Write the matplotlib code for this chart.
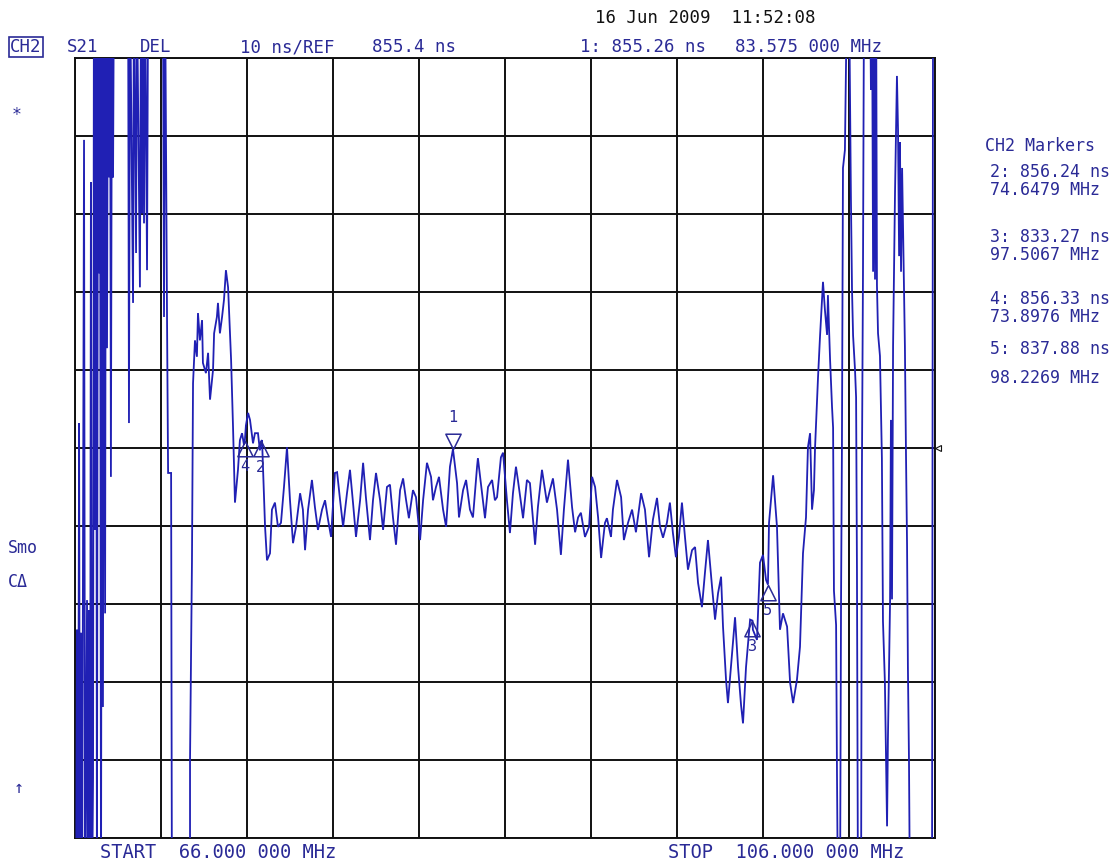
import matplotlib.pyplot as plt
import numpy as np
from matplotlib.path import Path

# ── sweep setup ───────────────────────────────────────────
START_MHZ = 66.0
STOP_MHZ = 106.0
REF_NS = 855.4
NS_PER_DIV = 10.0

TRACE_BLUE = "#2020b4"
TEXT_BLUE = "#2a2a96"

# S21 group delay trace (MHz, ns); values off-screen are parked past the limits
freq_mhz = [
    66.00, 66.05, 66.09, 66.14, 66.19, 66.23, 66.28, 66.33, 66.42, 66.47,
    66.56, 66.60, 66.65, 66.70, 66.74, 66.79, 66.84, 66.88, 66.93, 66.98,
    67.02, 67.07, 67.12, 67.16, 67.21, 67.26, 67.30, 67.35, 67.40, 67.44,
    67.49, 67.53, 67.58, 67.63, 67.67, 67.72, 67.77, 67.81, 68.47, 68.51,
    68.56, 68.70, 68.74, 68.84, 68.88, 69.02, 69.07, 69.12, 69.16, 69.21,
    69.26, 69.35, 69.40, 70.09, 70.14, 70.19, 70.28, 70.33, 70.47, 70.51,
    71.35, 71.35, 71.44, 71.49, 71.58, 71.67, 71.72, 71.81, 71.91, 71.95,
    72.09, 72.19, 72.28, 72.42, 72.47, 72.60, 72.65, 72.74, 72.84, 72.93,
    73.02, 73.12, 73.26, 73.35, 73.44, 73.58, 73.67, 73.77, 73.86, 73.90,
    73.95, 74.05, 74.14, 74.28, 74.37, 74.51, 74.60, 74.65, 74.70, 74.79,
    74.84, 74.93, 75.07, 75.16, 75.30, 75.44, 75.58, 75.72, 75.86, 76.00,
    76.14, 76.28, 76.47, 76.60, 76.70, 76.84, 77.02, 77.16, 77.30, 77.49,
    77.63, 77.77, 77.91, 78.09, 78.19, 78.33, 78.47, 78.65, 78.79, 78.93,
    79.07, 79.26, 79.40, 79.53, 79.72, 79.86, 80.00, 80.19, 80.33, 80.51,
    80.65, 80.79, 80.93, 81.12, 81.26, 81.40, 81.53, 81.72, 81.86, 82.05,
    82.19, 82.37, 82.56, 82.65, 82.79, 82.93, 83.12, 83.26, 83.44, 83.58,
    83.77, 83.86, 84.05, 84.19, 84.37, 84.51, 84.70, 84.74, 84.93, 85.07,
    85.21, 85.40, 85.53, 85.63, 85.81, 85.91, 86.09, 86.23, 86.37, 86.51,
    86.60, 86.84, 87.02, 87.16, 87.40, 87.53, 87.72, 87.95, 88.09, 88.23,
    88.42, 88.60, 88.74, 88.93, 89.12, 89.26, 89.40, 89.53, 89.72, 89.91,
    90.05, 90.19, 90.33, 90.47, 90.65, 90.74, 90.93, 91.02, 91.21, 91.40,
    91.53, 91.72, 91.91, 92.09, 92.33, 92.51, 92.70, 92.88, 93.07, 93.21,
    93.35, 93.53, 93.67, 93.81, 93.95, 94.09, 94.23, 94.37, 94.51, 94.70,
    94.84, 94.98, 95.16, 95.30, 95.44, 95.63, 95.77, 95.91, 96.05, 96.14,
    96.28, 96.37, 96.51, 96.70, 96.84, 96.98, 97.07, 97.21, 97.40, 97.51,
    97.53, 97.72, 97.86, 98.00, 98.14, 98.23, 98.28, 98.47, 98.65, 98.79,
    98.93, 99.12, 99.26, 99.40, 99.58, 99.72, 99.86, 100.00, 100.09, 100.19,
    100.28, 100.37, 100.42, 100.56, 100.65, 100.79, 100.88, 100.98, 101.02, 101.12,
    101.21, 101.26, 101.30, 101.40, 101.44, 101.49, 101.58, 101.63, 101.67, 101.72,
    101.81, 101.91, 102.00, 102.09, 102.14, 102.19, 102.28, 102.33, 102.37, 102.42,
    102.56, 102.60, 102.65, 102.70, 102.98, 103.02, 103.07, 103.12, 103.16, 103.21,
    103.26, 103.30, 103.35, 103.44, 103.53, 103.58, 103.67, 103.77, 103.81, 103.91,
    103.95, 104.00, 104.05, 104.14, 104.23, 104.28, 104.33, 104.37, 104.42, 104.47,
    104.56, 104.60, 104.65, 104.70, 104.74, 104.79, 104.84, 105.86, 105.91, 106.00,
]
delay_ns = [
    795.0, 795.0, 832.1, 795.0, 858.6, 795.0, 831.7, 795.0, 894.9, 795.0,
    835.9, 795.0, 834.6, 795.0, 889.5, 795.0, 813.1, 915.0, 844.9, 915.0,
    795.0, 915.0, 877.8, 915.0, 795.0, 915.0, 822.2, 915.0, 834.2, 915.0,
    868.2, 915.0, 890.1, 915.0, 851.7, 915.0, 890.1, 915.0, 915.0, 858.6,
    915.0, 874.0, 915.0, 880.4, 915.0, 876.0, 915.0, 885.5, 915.0, 884.2,
    915.0, 878.2, 915.0, 915.0, 872.2, 915.0, 872.2, 852.2, 852.2, 795.0,
    795.0, 815.4, 840.8, 863.7, 869.2, 867.1, 872.7, 869.2, 871.8, 866.3,
    865.0, 867.6, 861.6, 865.4, 870.1, 872.2, 874.0, 870.1, 872.2, 874.4,
    878.2, 876.0, 866.7, 858.1, 848.4, 852.6, 856.4, 857.3, 855.8, 856.33,
    858.3, 859.9, 859.0, 856.0, 857.3, 857.3, 855.1, 856.24, 856.4, 849.4,
    845.3, 841.0, 841.9, 847.5, 848.4, 845.3, 845.8, 850.4, 855.5, 848.7,
    843.2, 845.3, 849.6, 847.5, 842.3, 847.5, 851.3, 847.8, 844.9, 847.5,
    848.7, 846.2, 844.0, 852.2, 852.3, 848.7, 845.3, 849.6, 852.6, 848.4,
    844.0, 848.7, 853.5, 849.1, 843.6, 848.7, 852.2, 848.7, 844.9, 850.4,
    850.7, 846.5, 843.0, 850.0, 851.5, 848.7, 846.4, 850.0, 849.1, 843.6,
    848.7, 853.5, 851.7, 848.7, 850.4, 851.7, 847.5, 845.3, 853.0, 855.26,
    850.9, 846.5, 850.0, 851.3, 847.5, 846.5, 853.0, 854.1, 849.6, 846.4,
    850.4, 851.3, 848.7, 849.1, 854.2, 854.8, 848.7, 844.5, 849.6, 853.0,
    851.3, 846.4, 851.3, 850.9, 843.0, 847.8, 852.6, 848.4, 850.0, 851.5,
    847.5, 841.7, 847.5, 853.9, 847.8, 844.6, 846.5, 847.1, 844.0, 845.3,
    851.7, 850.4, 846.5, 841.3, 845.8, 846.4, 844.0, 847.5, 851.3, 849.1,
    843.6, 845.8, 847.5, 844.6, 849.6, 847.5, 841.4, 846.2, 849.0, 845.3,
    843.9, 845.8, 848.4, 844.5, 841.4, 844.0, 848.4, 844.0, 839.8, 842.3,
    842.7, 838.1, 835.0, 839.4, 843.6, 837.6, 833.4, 836.8, 838.9, 832.5,
    825.7, 822.7, 827.3, 833.7, 827.3, 822.4, 820.1, 827.3, 833.4, 833.27,
    832.1, 830.8, 840.7, 841.7, 838.5, 837.88, 845.8, 851.9, 845.3, 832.1,
    834.2, 832.5, 825.3, 822.7, 825.7, 829.9, 841.9, 846.5, 855.5, 857.3,
    847.5, 850.0, 855.4, 864.5, 869.6, 876.7, 873.1, 869.9, 875.0, 866.7,
    860.7, 858.0, 837.1, 832.7, 814.1, 795.0, 795.0, 835.9, 854.8, 891.3,
    893.6, 915.0, 915.0, 887.2, 875.7, 869.8, 865.4, 861.9, 839.8, 795.0,
    795.0, 852.1, 877.6, 915.0, 915.0, 901.3, 915.0, 878.0, 915.0, 877.0,
    915.0, 876.3, 870.1, 867.2, 854.1, 833.2, 825.3, 806.9, 818.0, 835.8,
    859.0, 836.0, 868.5, 888.1, 903.1, 896.2, 880.0, 894.6, 878.0, 891.3,
    875.0, 868.5, 854.8, 843.0, 827.2, 815.4, 795.0, 795.0, 915.0, 915.0,
]

# marker table: id, stimulus (MHz), delay (ns)
marker_ids = [1, 2, 3, 4, 5]
marker_mhz = [83.575, 74.6479, 97.5067, 73.8976, 98.2269]
marker_ns = [855.26, 856.24, 833.27, 856.33, 837.88]
# ──────────────────────────────────────────────────────────


W, H = 1117, 861
fig = plt.figure(figsize=(W / 100, H / 100), dpi=100)
fig.patch.set_facecolor("white")


def px(x, y):
    """screen pixel -> figure fraction"""
    return x / W, 1 - y / H


ax = fig.add_axes([75 / W, 1 - 838 / H, 860 / W, 780 / H])
ymin = REF_NS - 5 * NS_PER_DIV
ymax = REF_NS + 5 * NS_PER_DIV
ax.set_xlim(START_MHZ, STOP_MHZ)
ax.set_ylim(ymin, ymax)
ax.set_xticks(np.linspace(START_MHZ, STOP_MHZ, 11))
ax.set_yticks(np.linspace(ymin, ymax, 11))
ax.tick_params(length=0, labelbottom=False, labelleft=False)
ax.grid(True, color="#111111", linewidth=1.4)
ax.set_axisbelow(True)
for sp in ax.spines.values():
    sp.set_color("#111111")
    sp.set_linewidth(1.4)

ax.plot(freq_mhz, delay_ns, color=TRACE_BLUE, linewidth=1.3,
        solid_joinstyle="miter", zorder=3)

# triangles with their apex sitting on the trace
tri_up = Path([(0, 0), (-0.5, -1), (0.5, -1), (0, 0)])     # hangs below the point
tri_down = Path([(0, 0), (-0.5, 1), (0.5, 1), (0, 0)])     # sits above the point
mono = "DejaVu Sans Mono"

for mid, f, d in zip(marker_ids, marker_mhz, marker_ns):
    if mid == 1:
        ax.plot(f, d, marker=tri_down, markersize=22, markerfacecolor="none",
                markeredgecolor=TEXT_BLUE, markeredgewidth=1.1, zorder=4)
        ax.annotate(str(mid), (f, d), xytext=(0, 17), textcoords="offset points",
                    ha="center", va="bottom", color=TEXT_BLUE, family=mono, fontsize=11)
    else:
        ax.plot(f, d, marker=tri_up, markersize=22, markerfacecolor="none",
                markeredgecolor=TEXT_BLUE, markeredgewidth=1.1, zorder=4)
        ax.annotate(str(mid), (f, d), xytext=(0, -13), textcoords="offset points",
                    ha="center", va="top", color=TEXT_BLUE, family=mono, fontsize=11)

# reference level pointer on the right edge
ax.plot(STOP_MHZ + 0.12, REF_NS, marker="<", markersize=5, markerfacecolor="white",
        markeredgecolor="#111111", markeredgewidth=0.8, clip_on=False)

# ── annotation text around the graticule ──────────────────
hdr = dict(family=mono, fontsize=12.5, color=TEXT_BLUE, va="center", ha="left")
fig.text(*px(595, 18), "16 Jun 2009  11:52:08", family=mono, fontsize=12.5,
         color="#111111", va="center", ha="left")
fig.text(*px(10, 47), "CH2", bbox=dict(boxstyle="square,pad=0.08", fc="white",
         ec=TEXT_BLUE, lw=1.2), **hdr)
fig.text(*px(67, 47), "S21", **hdr)
fig.text(*px(140, 47), "DEL", **hdr)
fig.text(*px(240, 47), f"{NS_PER_DIV:.0f} ns/REF", **hdr)
fig.text(*px(372, 47), f"{REF_NS:.1f} ns", **hdr)
fig.text(*px(580, 47), f"{marker_ids[0]}: {marker_ns[0]:.2f} ns", **hdr)
fig.text(*px(735, 47), "83.575 000 MHz", **hdr)

side = dict(family=mono, fontsize=12, color=TEXT_BLUE, va="center", ha="left")
fig.text(*px(12, 115), "*", **side)
fig.text(*px(8, 548), "Smo", **side)
fig.text(*px(8, 582), "C\u0394", **side)
fig.text(*px(14, 788), "\u2191", **side)

fig.text(*px(985, 146), "CH2 Markers", **side)
# paired readouts share one text block, single lines for marker 5
rows = {2: 181, 3: 246, 4: 308}
for mid, f, d in zip(marker_ids, marker_mhz, marker_ns):
    if mid in rows:
        fig.text(*px(990, rows[mid]), f"{mid}: {d:.2f} ns\n{f:.4f} MHz",
                 linespacing=0.95, **side)
    elif mid == 5:
        fig.text(*px(990, 349), f"{mid}: {d:.2f} ns", **side)
        fig.text(*px(990, 378), f"{f:.4f} MHz", **side)

bot = dict(hdr, fontsize=13.5)
fig.text(*px(100, 852), f"START  {START_MHZ:.3f} 000 MHz", **bot)
fig.text(*px(668, 852), f"STOP  {STOP_MHZ:.3f} 000 MHz", **bot)

fig.savefig("out.png", dpi=100)
